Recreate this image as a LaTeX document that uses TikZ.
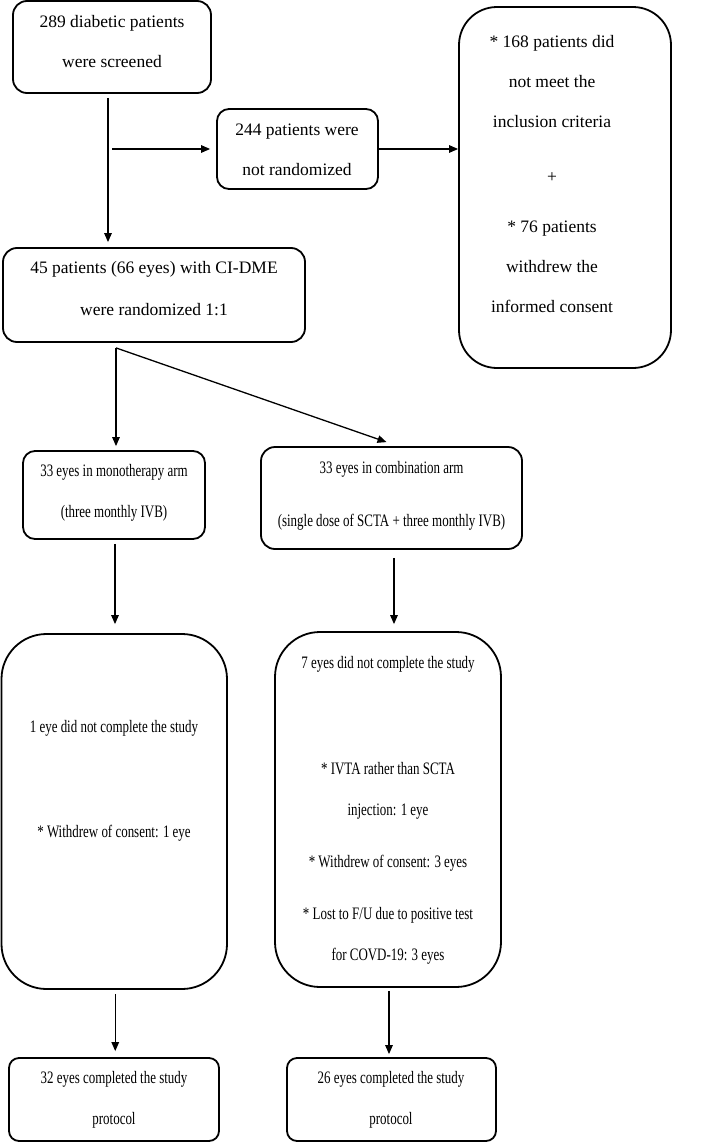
\documentclass[tikz,border=0pt]{standalone}
\usepackage{fontspec}
\setmainfont{Liberation Serif}
\newfontfamily\narrowfont[FakeStretch=0.74]{Liberation Serif}
\usetikzlibrary{arrows.meta,fit}
\begin{document}
\begin{tikzpicture}[x=1pt,y=-1pt,
  box/.style={draw, line width=1.8pt, rounded corners=#1, inner sep=0pt},
  box/.default=14pt,
  txt/.style={align=center, font=\fontsize{17.5}{40}\selectfont, inner sep=0pt},
  ntxt/.style={align=center, font=\narrowfont\fontsize{17.5}{41}\selectfont, inner sep=0pt},
  arr/.style={-{Triangle[length=9pt,width=7.5pt]}, line width=1.3pt}]
\useasboundingbox (0,0) rectangle (708,1143);

% boxes
\node[box=14pt, fit={(13,1) (211,93)}] (b1) {};
\node[box=12pt, fit={(217,109) (378,189)}] (b2) {};
\node[box=14pt, fit={(3,248) (305,342)}] (b3) {};
\node[box=38pt, fit={(459,7) (671,368)}] (rb) {};
\node[box=12pt, fit={(23,451) (205,539)}] (mono) {};
\node[box=14pt, fit={(261,447) (522,549)}] (comb) {};
\node[box=45pt, fit={(1.5,634) (227,989)}] (lbig) {};
\node[box=45pt, fit={(275,632) (501,987)}] (rbig) {};
\node[box=10pt, fit={(9,1058) (219,1141)}] (lbot) {};
\node[box=10pt, fit={(287,1058) (496,1141)}] (rbot) {};

% texts
\node[txt] (b1t) at (112,42) {289 diabetic patients\\were screened};
\node[txt] (b2t) at (297,150) {244 patients were\\not randomized};
\node[txt] (b3t) at (154,289) {45 patients (66 eyes) with CI-DME\\[2pt]were randomized 1:1};
\node[txt] (rbt) at (552,174.5) {* 168 patients did\\not meet the\\inclusion criteria\\[15pt]+\\[10pt]* 76 patients\\withdrew the\\informed consent};
\node[ntxt] (monot) at (114,492.5) {33 eyes in monotherapy arm\\(three monthly IVB)};
\node[ntxt] (combt) at (391.5,495.5) {33 eyes in combination arm\\[12pt](single dose of SCTA + three monthly IVB)};
\node[ntxt] (lbigt) at (114,780.5) {1 eye did not complete the study\\[64pt]* Withdrew of consent: 1 eye};
\node[ntxt] (rbigt) at (388,810) {7 eyes did not complete the study\\[65pt]* IVTA rather than SCTA\\injection: 1 eye\\[11pt]* Withdrew of consent: 3 eyes\\[11pt]* Lost to F/U due to positive test\\for COVD-19: 3 eyes};
\node[ntxt] (lbott) at (114,1099.5) {32 eyes completed the study\\protocol};
\node[ntxt] (rbott) at (391,1099.5) {26 eyes completed the study\\protocol};

% connectors
\coordinate (s1) at ([xshift=-4pt]b1.south |- b2.west);
\coordinate (s2) at ([xshift=-38pt,yshift=-5pt]b3.south);
\draw[arr, shorten >=5pt] ([xshift=-4pt,yshift=-4pt]b1.south) -- ([xshift=-4pt]b1.south |- b3.north);
\draw[arr, shorten >=6pt] ([xshift=4pt]s1) -- (b2.west);
\draw[arr] (b2.east) -- (b2.east -| rb.west);
\draw[arr, shorten >=4pt] (s2) -- (s2 |- mono.north);
\draw[arr] (s2) -- ([xshift=-5pt,yshift=4pt]comb.north);
\draw[arr, shorten >=9pt] ([xshift=1pt,yshift=-4pt]mono.south) -- ([xshift=1pt]mono.south |- lbig.north);
\draw[arr, shorten >=7pt] ([xshift=2.5pt,yshift=-8pt]comb.south) -- ([xshift=2.5pt]comb.south |- rbig.north);
\draw[arr, shorten >=6pt] ([xshift=1pt,yshift=-4pt]lbig.south) -- ([xshift=1pt]lbig.south |- lbot.north);
\draw[arr, shorten >=3pt] ([xshift=1pt,yshift=-3pt]rbig.south) -- ([xshift=1pt]rbig.south |- rbot.north);
\end{tikzpicture}
\end{document}
